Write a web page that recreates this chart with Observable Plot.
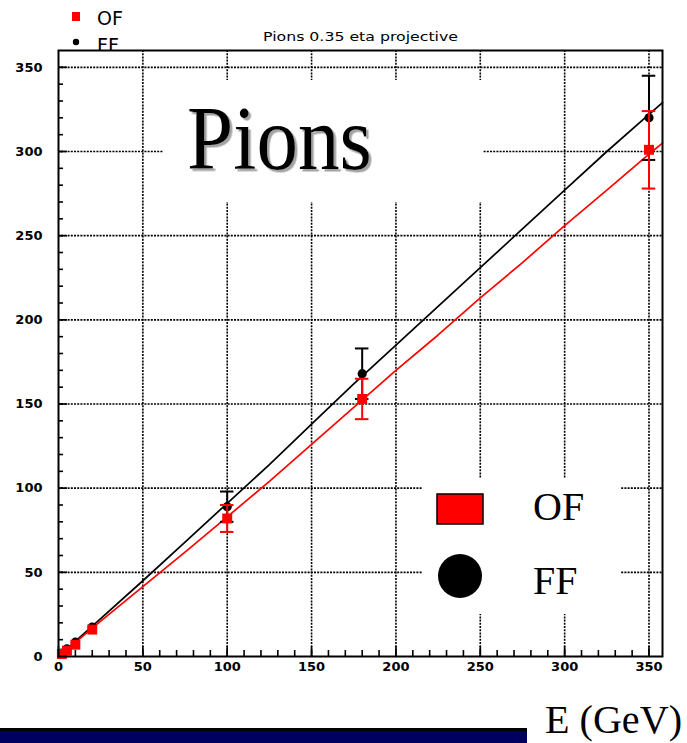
<!DOCTYPE html>
<html>
<head>
<meta charset="utf-8">
<script src="https://cdn.jsdelivr.net/npm/d3@7"></script>
<script src="https://cdn.jsdelivr.net/npm/@observablehq/plot@0.6"></script>
<style>
  html, body { margin: 0; padding: 0; background: #fff; }
  svg { display: block; }
</style>
</head>
<body>
<div id="chart"></div>
<script>
// Beam energies (GeV) and reconstructed responses for the two filters
const energies = [2, 5, 10, 20, 100, 180, 350];
const ofValues = [1.5, 3.5, 7, 16, 82, 153, 301];
const ofErrors = [0, 0, 0, 0, 8, 12, 23];
const ffValues = [2, 4.5, 8.5, 17.5, 89, 168, 320];
const ffErrors = [0, 0, 0, 0, 9, 15, 25];

// Simulated response curves
const curveEnergies = [0, 25, 50, 75, 100, 125, 150, 175, 200, 225, 250, 275, 300, 325, 350, 358];
const ofCurve = [0, 21, 41.5, 62, 83, 104, 126, 148, 170, 191, 213, 234, 256, 277, 298.5, 305];
const ffCurve = [0, 22.5, 45, 68, 91, 114, 138, 162, 185, 208, 231, 254, 277, 300, 322, 329];

// Axis ticks
const majorTicks = [0, 50, 100, 150, 200, 250, 300, 350];
const minorTicks = d3.range(0, 351, 10);

const W = 687, H = 743;
const M = {left: 58, right: 25, top: 50, bottom: 87};
const plotW = W - M.left - M.right;
const plotH = H - M.top - M.bottom;

const toPoints = (vals, errs) => energies.map((E, i) => ({E, v: vals[i], lo: vals[i] - errs[i], hi: vals[i] + errs[i], err: errs[i]}));
const ofPts = toPoints(ofValues, ofErrors);
const ffPts = toPoints(ffValues, ffErrors);
const toCurve = vals => curveEnergies.map((E, i) => ({E, v: vals[i]}));

const RED = "#ff0000";
const tickFont = {fontFamily: "DejaVu Sans", fontSize: 13, fontWeight: "bold", fill: "#000"};
const grid = {stroke: "#000", strokeWidth: 1.6, strokeDasharray: "2,1.2", strokeOpacity: 1};
const capHalf = 4;

const errorMarks = (pts, color) => {
  const withErr = pts.filter(d => d.err > 0);
  return [
    Plot.ruleX(withErr, {x: "E", y1: "lo", y2: "hi", stroke: color, strokeWidth: 2}),
    Plot.ruleY(withErr, {y: "hi", x1: d => d.E - capHalf, x2: d => d.E + capHalf, stroke: color, strokeWidth: 2}),
    Plot.ruleY(withErr, {y: "lo", x1: d => d.E - capHalf, x2: d => d.E + capHalf, stroke: color, strokeWidth: 2})
  ];
};

const svg = Plot.plot({
  width: W,
  height: H,
  marginLeft: M.left,
  marginRight: M.right,
  marginTop: M.top,
  marginBottom: M.bottom,
  style: {background: "transparent", overflow: "visible"},
  x: {domain: [0, 358], axis: null},
  y: {domain: [0, 360], axis: null},
  marks: [
    Plot.frame({fill: "#fff", stroke: "none"}),
    // dotted grid on major ticks
    Plot.ruleX(majorTicks.filter(v => v > 0), {x: d => d, ...grid}),
    Plot.ruleY(majorTicks.filter(v => v > 0), {y: d => d, ...grid}),
    // inward tick marks
    Plot.tickX(minorTicks, {x: d => d, insetTop: plotH - 6, stroke: "#000", strokeWidth: 1.6}),
    Plot.tickX(majorTicks, {x: d => d, insetTop: plotH - 10, stroke: "#000", strokeWidth: 1.6}),
    Plot.tickY(minorTicks, {y: d => d, insetRight: plotW - 5, stroke: "#000", strokeWidth: 1.6}),
    Plot.tickY(majorTicks, {y: d => d, insetRight: plotW - 9, stroke: "#000", strokeWidth: 1.6}),
    // tick labels
    Plot.text(majorTicks, {x: d => d, frameAnchor: "bottom", dy: 14, text: d => String(d), textAnchor: "middle", ...tickFont}),
    Plot.text(majorTicks, {y: d => d, frameAnchor: "left", dx: -16, text: d => String(d), textAnchor: "end", ...tickFont}),
    // response curves
    Plot.line(toCurve(ffCurve), {x: "E", y: "v", stroke: "#000", strokeWidth: 1.7}),
    Plot.line(toCurve(ofCurve), {x: "E", y: "v", stroke: RED, strokeWidth: 1.7}),
    // measured points
    ...errorMarks(ffPts, "#000"),
    Plot.dot(ffPts, {x: "E", y: "v", r: 4.6, fill: "#000", stroke: "none"}),
    ...errorMarks(ofPts, RED),
    Plot.dot(ofPts, {x: "E", y: "v", r: 5.6, symbol: "square", fill: RED, stroke: "none"}),
    Plot.frame({stroke: "#000", strokeWidth: 2})
  ]
});

document.getElementById("chart").appendChild(svg);
const root = d3.select(svg);

// drop shadow for the panel label
root.append("defs").append("filter")
  .attr("id", "label-shadow").attr("x", "-10%").attr("y", "-10%").attr("width", "120%").attr("height", "130%")
  .append("feDropShadow")
  .attr("dx", 2.5).attr("dy", 2.5).attr("stdDeviation", 0.7)
  .attr("flood-color", "#999").attr("flood-opacity", 0.9);

// small marker key above the frame (drawn first so the frame fill clips it)
const key = root.insert("g", ":first-child")
  .attr("font-family", "DejaVu Sans").attr("font-size", 19).attr("text-anchor", "start");
key.append("rect").attr("x", 72).attr("y", 12).attr("width", 8).attr("height", 9).attr("fill", RED);
key.append("text").attr("x", 97).attr("y", 25).text("OF");
key.append("circle").attr("cx", 76).attr("cy", 42).attr("r", 3.2).attr("fill", "#000");
key.append("text").attr("x", 97).attr("y", 52).text("FF");
root.insert("rect", ":first-child").attr("width", W).attr("height", H).attr("fill", "#fff");

// histogram title
root.append("text")
  .attr("x", 263).attr("y", 41).attr("text-anchor", "start")
  .attr("font-family", "DejaVu Sans").attr("font-size", 13)
  .attr("textLength", 195).attr("lengthAdjust", "spacingAndGlyphs")
  .text("Pions 0.35 eta projective");

// "Pions" panel label on a white box
const panel = root.append("g").attr("text-anchor", "start");
panel.append("rect").attr("x", 163).attr("y", 80).attr("width", 320).attr("height", 122).attr("fill", "#fff");
panel.append("text").attr("x", 187).attr("y", 169)
  .attr("font-family", "Liberation Serif").attr("font-size", 90).attr("fill", "#000")
  .attr("filter", "url(#label-shadow)")
  .attr("textLength", 185).attr("lengthAdjust", "spacingAndGlyphs").text("Pions");

// large legend on a white box
const legend = root.append("g")
  .attr("font-family", "Liberation Serif").attr("font-size", 40).attr("text-anchor", "start");
legend.append("rect").attr("x", 422).attr("y", 478).attr("width", 198).attr("height", 136).attr("fill", "#fff");
legend.append("rect").attr("x", 437).attr("y", 494).attr("width", 46).attr("height", 30)
  .attr("fill", RED).attr("stroke", "#000").attr("stroke-width", 1.5);
legend.append("text").attr("x", 533).attr("y", 520).text("OF");
legend.append("circle").attr("cx", 460).attr("cy", 576).attr("r", 22).attr("fill", "#000");
legend.append("text").attr("x", 533).attr("y", 594).text("FF");

// slide footer bar and axis caption
root.append("rect").attr("x", 0).attr("y", 728).attr("width", 527).attr("height", 3).attr("fill", "#000");
root.append("rect").attr("x", 0).attr("y", 731).attr("width", 527).attr("height", 12).attr("fill", "#000060");
root.append("text").attr("x", 545).attr("y", 733).attr("text-anchor", "start")
  .attr("font-family", "Liberation Serif").attr("font-size", 41)
  .attr("textLength", 137).attr("lengthAdjust", "spacingAndGlyphs")
  .text("E (GeV)");
</script>
</body>
</html>
